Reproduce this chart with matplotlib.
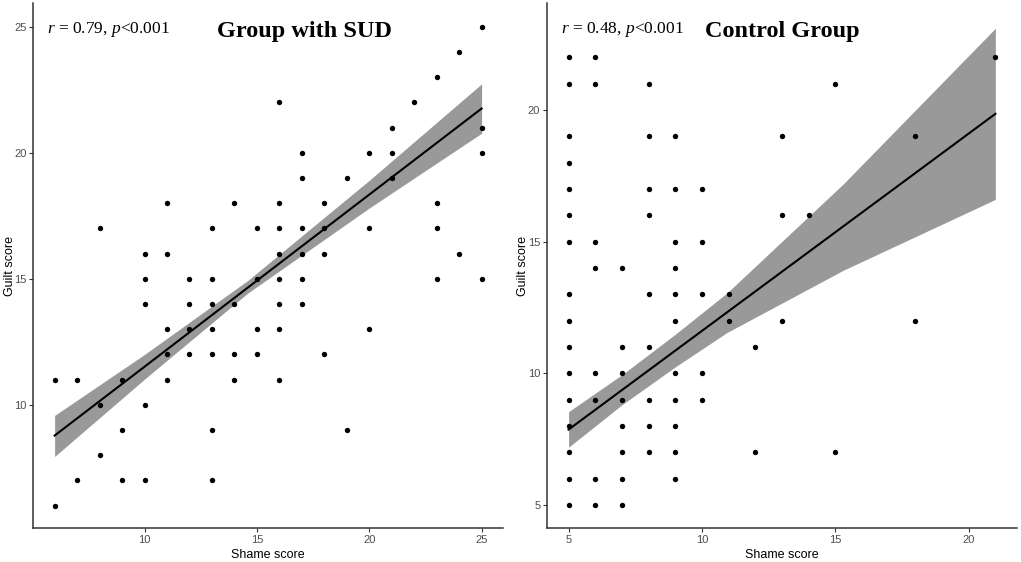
import numpy as np
import matplotlib
matplotlib.use("Agg")
import matplotlib.pyplot as plt

plt.rcParams['mathtext.fontset'] = 'custom'
plt.rcParams['mathtext.rm'] = 'Liberation Serif'
plt.rcParams['mathtext.it'] = 'Liberation Serif:italic'

# ---- Group with SUD (shame, guilt) ----
sud_shame = [25, 24, 23, 16, 22, 21, 25, 17, 20, 21, 25, 17, 19, 21,
             11, 14, 16, 18, 23,
             8, 13, 15, 16, 17, 18, 20, 23,
             10, 11, 16, 17, 18, 24,
             10, 12, 13, 15, 16, 17, 23, 25,
             10, 12, 13, 14, 16, 17,
             11, 12, 13, 15, 16, 20,
             11, 12, 13, 14, 15, 18,
             6, 7, 9, 11, 14, 16,
             8, 10,
             9, 13, 19,
             8,
             7, 9, 10, 13,
             6]
sud_guilt = [25, 24, 23, 22, 22, 21, 21, 20, 20, 20, 20, 19, 19, 19,
             18, 18, 18, 18, 18,
             17, 17, 17, 17, 17, 17, 17, 17,
             16, 16, 16, 16, 16, 16,
             15, 15, 15, 15, 15, 15, 15, 15,
             14, 14, 14, 14, 14, 14,
             13, 13, 13, 13, 13, 13,
             12, 12, 12, 12, 12, 12,
             11, 11, 11, 11, 11, 11,
             10, 10,
             9, 9, 9,
             8,
             7, 7, 7, 7,
             6]
# fitted line and its 95% band
sud_fit_x = [6, 25]
sud_fit_y = [8.78, 21.76]
sud_band_x = [6, 10, 14.6, 20, 25]
sud_band_lo = [7.95, 11.02, 14.44, 17.81, 20.78]
sud_band_hi = [9.58, 12.00, 14.94, 18.91, 22.74]

# ---- Control Group (shame, guilt) ----
ctl_shame = [5, 6, 21,
             5, 6, 8, 15,
             5, 8, 9, 13, 18,
             5,
             5, 8, 9, 10,
             5, 8, 13, 14,
             5, 6, 9, 10,
             6, 7, 9,
             5, 8, 9, 10, 11,
             5, 9, 11, 13, 18,
             5, 7, 8, 12,
             5, 6, 7, 9, 10,
             5, 6, 7, 8, 9, 10,
             5, 7, 8, 9,
             5, 7, 8, 9, 12, 15,
             5, 6, 7, 9,
             5, 6, 7]
ctl_guilt = [22, 22, 22,
             21, 21, 21, 21,
             19, 19, 19, 19, 19,
             18,
             17, 17, 17, 17,
             16, 16, 16, 16,
             15, 15, 15, 15,
             14, 14, 14,
             13, 13, 13, 13, 13,
             12, 12, 12, 12, 12,
             11, 11, 11, 11,
             10, 10, 10, 10, 10,
             9, 9, 9, 9, 9, 9,
             8, 8, 8, 8,
             7, 7, 7, 7, 7, 7,
             6, 6, 6, 6,
             5, 5, 5]
ctl_fit_x = [5, 21]
ctl_fit_y = [7.86, 19.85]
ctl_band_x = [5, 7, 9, 10.93, 15.3, 21]
ctl_band_lo = [7.19, 8.80, 10.24, 11.54, 13.91, 16.60]
ctl_band_hi = [8.54, 9.94, 11.48, 13.04, 17.19, 23.10]

panels = [
    dict(x=sud_shame, y=sud_guilt, fx=sud_fit_x, fy=sud_fit_y,
         bx=sud_band_x, blo=sud_band_lo, bhi=sud_band_hi,
         title="Group with SUD", stat=r"$\it{r}$ = 0.79, $\it{p}$<0.001",
         xticks=[10, 15, 20, 25], yticks=[10, 15, 20, 25], xlim=(5.05, 25.95), ylim=(5.1, 25.95),
         rect=[0.0326, 0.06, 0.4600, 0.9347], title_x=0.578, ylab_x=-0.037),
    dict(x=ctl_shame, y=ctl_guilt, fx=ctl_fit_x, fy=ctl_fit_y,
         bx=ctl_band_x, blo=ctl_band_lo, bhi=ctl_band_hi,
         title="Control Group", stat=r"$\it{r}$ = 0.48, $\it{p}$<0.001",
         xticks=[5, 10, 15, 20], yticks=[5, 10, 15, 20], xlim=(4.2, 21.8), ylim=(4.11, 24.06),
         rect=[0.5360, 0.06, 0.4598, 0.9347], title_x=0.50, ylab_x=-0.039),
]

fig = plt.figure(figsize=(10.21, 5.62), dpi=100)
grey = '#4d4d4d'
for p in panels:
    ax = fig.add_axes(p['rect'])
    ax.fill_between(p['bx'], p['blo'], p['bhi'], color='#999999', lw=0, zorder=1)
    ax.plot(p['fx'], p['fy'], color='black', lw=1.5, zorder=3)
    ax.scatter(p['x'], p['y'], s=15, color='black', lw=0, zorder=2)

    ax.set_xlim(*p['xlim'])
    ax.set_ylim(*p['ylim'])
    ax.set_xticks(p['xticks'])
    ax.set_yticks(p['yticks'])
    for side in ['top', 'right']:
        ax.spines[side].set_visible(False)
    for side in ['left', 'bottom']:
        ax.spines[side].set_color('#333333')
        ax.spines[side].set_linewidth(1.1)
    ax.tick_params(colors='#333333', labelcolor=grey, labelsize=8, length=3, width=0.8, pad=2)
    for lbl in ax.get_xticklabels() + ax.get_yticklabels():
        lbl.set_family('Liberation Sans')
    ax.set_xlabel("Shame score", fontsize=9, family='Liberation Sans', labelpad=3)
    ax.set_ylabel("Guilt score", fontsize=9, family='Liberation Sans')
    ax.yaxis.set_label_coords(p['ylab_x'], 0.5)

    ax.text(0.03, 0.950, p['stat'], transform=ax.transAxes, fontsize=12.5,
            family='Liberation Serif', va='center', ha='left')
    ax.text(p['title_x'], 0.945, p['title'], transform=ax.transAxes, fontsize=17.5,
            family='Liberation Serif', weight='bold', va='center', ha='center')

fig.savefig('out.png', dpi=100)
